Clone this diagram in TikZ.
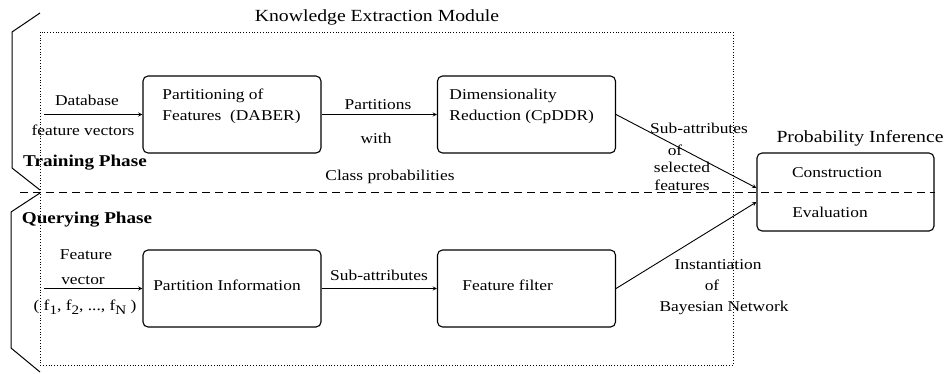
\documentclass[tikz,border=0pt]{standalone}
\usepackage{fontspec}
\setmainfont{Liberation Serif}[FakeStretch=1.16]
\usetikzlibrary{positioning,arrows}

\newcommand{\lowsub}[1]{\raisebox{-3.5pt}{\fontsize{13}{13}\selectfont #1}}

\begin{document}
\begin{tikzpicture}[x=1pt,y=-1pt,>=stealth,line width=0.9pt,
  box/.style={draw,rounded corners=5pt,line width=1.1pt,minimum width=178pt,minimum height=77pt},
  txt/.style={inner sep=0pt,align=center,font=\fontsize{15}{21.5}\selectfont},
  head/.style={inner sep=0pt,font=\fontsize{17}{19}\selectfont},
  phase/.style={inner sep=0pt,font=\fontsize{16.5}{19}\selectfont\bfseries}]

            \useasboundingbox (0,0) rectangle (945,373);

            \draw[dotted,line width=0.8pt] (40,32) rectangle (733,365);
            \node[head] (title) at (377,17) {Knowledge Extraction Module};

            \draw[line width=1pt] (40,13) -- (12,32) -- (12,168) -- (40,190);
            \draw[line width=1pt] (40,193) -- (11,212) -- (11,348) -- (40,372);
            \node[phase] (train) at (85,163) {Training Phase};
            \node[phase] (query) at (87,220) {Querying Phase};

            \node[box] (daber) at (232,114.5) {};
            \node[box] (cpddr) at (526.5,114.5) {};
            \node[box] (pinfo) at (232,288.5) {};
            \node[box] (filter) at (526.5,288.5) {};
            \node[box,minimum width=177pt,minimum height=78pt] (infer) at (845.5,192) {};

            \node[txt,align=left,anchor=west] (daber t) at (162,106.5) {Partitioning of\\Features~~(DABER)};
            \node[txt,align=left,anchor=west] (cpddr t) at (449,106.5) {Dimensionality\\Reduction (CpDDR)};
            \node[txt] (pinfo t) at (227,285) {Partition Information};
            \node[txt,anchor=west] (filter t) at (462,285) {Feature filter};
            \node[head] (infer t) at (860,138) {Probability Inference};
            \node[txt] (constr) at (837,173) {Construction};
            \node[txt] (eval) at (830,212) {Evaluation};

            \coordinate (dl) at (20,192);
            \coordinate (dr) at (935,192);
            \draw[dashed,dash pattern=on 8pt off 5pt,line width=1pt] (dl) -- (dr);

            \coordinate (in1) at (44,114.5);
            \coordinate (in2) at (44,288.5);
            \draw[->] (in1) -- (daber.west);
            \draw[->] (daber) -- (cpddr);
            \draw[->] (cpddr.east) -- ([yshift=4pt]infer.west);
            \draw[->] (in2) -- (pinfo.west);
            \draw[->] (pinfo) -- (filter);
            \draw[->] (filter.east) -- ([yshift=-10pt]infer.west);

            \node[txt] (db) at (87,100) {Database};
            \node[txt] (fv) at (83,130) {feature vectors};
            \node[txt] (part) at (378,105) {Partitions};
            \node[txt] (with) at (376,138) {with};
            \node[txt] (cls) at (390,177) {Class probabilities};
            \node[txt] (sub1) at (699,128) {Sub-attributes};
            \node[txt] (of1) at (675,150) {of};
            \node[txt] (sel) at (682,167) {selected};
            \node[txt] (feat) at (682,185) {features};

            \node[txt] (fea) at (86,255) {Feature};
            \node[txt] (vec) at (83,280) {vector};
            \node[txt] (fn) at (85,307) {( f\lowsub{1}, f\lowsub{2}, ..., f\lowsub{N} )};
            \node[txt] (sub2) at (379,275) {Sub-attributes};
            \node[txt] (inst) at (718,265) {Instantiation};
            \node[txt] (of2) at (712,285) {of};
            \node[txt] (bn) at (724,308) {Bayesian Network};

        \end{tikzpicture}
\end{document}
